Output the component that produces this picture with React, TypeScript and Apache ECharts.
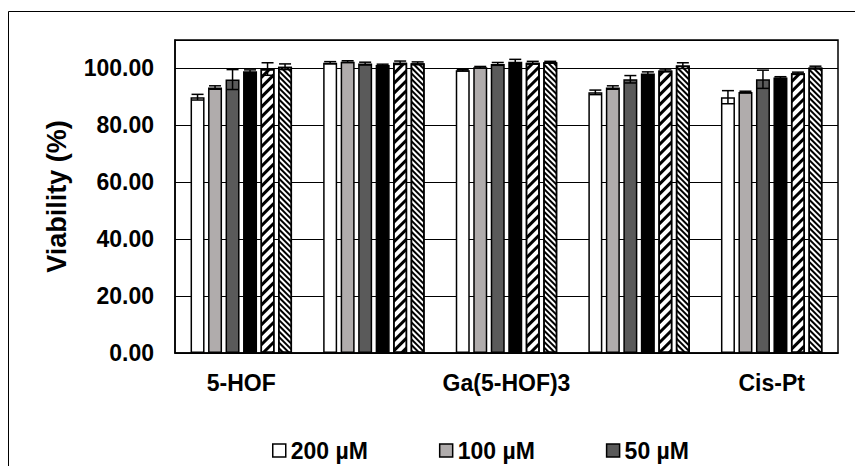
import React, { useEffect, useRef } from 'react';
import * as echarts from 'echarts';

const categories = ['5-HOF', '', 'Ga(5-HOF)3', '', 'Cis-Pt'];
const seriesNames = ['200 µM', '100 µM', '50 µM', '25 µM', '12.5 µM', '6.25 µM'];
const legendNames = ['200 µM', '100 µM', '50 µM'];
const yAxisName = 'Viability (%)';

const values200 = [89.9, 102.0, 99.4, 91.6, 89.9];
const values100 = [93.3, 102.4, 100.4, 93.3, 91.7];
const values50 = [96.1, 101.7, 101.6, 96.2, 96.2];
const values25 = [99.0, 101.2, 102.4, 98.2, 96.8];
const values12 = [99.8, 102.0, 102.0, 99.3, 98.3];
const values6 = [100.6, 101.8, 102.2, 101.0, 100.3];

const err200 = [1.0, 0.4, 0.3, 0.8, 2.3];
const err100 = [0.6, 0.3, 0.3, 0.6, 0.3];
const err50 = [3.5, 0.5, 0.5, 1.3, 3.2];
const err25 = [0.5, 0.3, 0.8, 0.6, 0.3];
const err12 = [2.2, 0.6, 0.5, 0.5, 0.4];
const err6 = [1.0, 0.5, 0.3, 1.0, 0.5];

const allValues = [values200, values100, values50, values25, values12, values6];
const allErrors = [err200, err100, err50, err25, err12, err6];

const fills = ['#ffffff', '#b0acac', '#5a5a5a', '#000000', '#ffffff', '#ffffff'];

const BAR_W = 14;
const BAR_GAP = 3.5;
const FONT = 'Arial, "Liberation Sans", sans-serif';

function decalFor(i: number): any {
  if (i === 4) {
    return {
      symbol: 'rect',
      symbolSize: 1,
      color: '#000',
      dashArrayX: [1, 0],
      dashArrayY: [3, 3.5],
      rotation: -Math.PI / 4,
    };
  }
  if (i === 5) {
    return {
      symbol: 'rect',
      symbolSize: 1,
      color: '#000',
      dashArrayX: [1, 0],
      dashArrayY: [1.8, 1.8],
      rotation: Math.PI / 4,
    };
  }
  return undefined;
}

export default function App() {
  const ref = useRef<HTMLDivElement>(null);
  useEffect(() => {
    if (!ref.current) return;
    const chart = echarts.init(ref.current, undefined, { renderer: 'svg' });
    const barSeries = seriesNames.map((name, i) => {
      const d = decalFor(i);
      return {
        name,
        type: 'bar',
        data: allValues[i],
        barWidth: BAR_W,
        barGap: (BAR_GAP / BAR_W) * 100 + '%',
        itemStyle: {
          color: fills[i],
          borderColor: '#000',
          borderWidth: 1.5,
          ...(d ? { decal: d } : {}),
        },
        z: 2,
      };
    });
    const errSeries = seriesNames.map((name, i) => ({
      name: name + ' err',
      type: 'custom',
      z: 5,
      data: allValues[i].map((v, k) => [k, v, allErrors[i][k]]),
      renderItem: (params: any, api: any) => {
        const k = api.value(0);
        const v = api.value(1);
        const e = api.value(2);
        const offset = (i - 2.5) * (BAR_W + BAR_GAP);
        const hi = api.coord([k, v + e]);
        const lo = api.coord([k, v - e]);
        const x = hi[0] + offset;
        const cap = 6;
        const st = { stroke: '#000', lineWidth: 1.5 };
        return {
          type: 'group',
          children: [
            { type: 'line', shape: { x1: x, y1: hi[1], x2: x, y2: lo[1] }, style: st },
            { type: 'line', shape: { x1: x - cap, y1: hi[1], x2: x + cap, y2: hi[1] }, style: st },
            { type: 'line', shape: { x1: x - cap, y1: lo[1], x2: x + cap, y2: lo[1] }, style: st },
          ],
        };
      },
    }));
    chart.setOption({
      animation: false,
      backgroundColor: '#ffffff',
      textStyle: { fontFamily: FONT },
      graphic: [
        {
          type: 'rect',
          shape: { x: 8.5, y: 11.5, width: 900, height: 500 },
          style: { fill: 'none', stroke: '#000', lineWidth: 1 },
          z: 0,
        },
      ],
      grid: {
        left: 175,
        top: 40,
        right: 17,
        bottom: 113,
        show: true,
        borderColor: '#000',
        borderWidth: 1.5,
        backgroundColor: '#fff',
      },
      legend: {
        data: legendNames,
        left: 267,
        top: 434,
        itemGap: 71,
        itemWidth: 13,
        itemHeight: 13,
        icon: 'rect',
        itemStyle: { borderColor: '#000', borderWidth: 1.5 },
        textStyle: { fontSize: 23, fontWeight: 'bold', color: '#000', fontFamily: FONT },
      },
      xAxis: {
        type: 'category',
        data: categories,
        axisLine: { show: true, lineStyle: { color: '#000', width: 1.5 } },
        axisTick: { show: false },
        axisLabel: {
          interval: 1,
          margin: 18,
          fontSize: 23,
          fontWeight: 'bold',
          color: '#000',
          fontFamily: FONT,
        },
      },
      yAxis: {
        type: 'value',
        min: 0,
        max: 110,
        interval: 20,
        name: yAxisName,
        nameLocation: 'middle',
        nameGap: 105,
        nameTextStyle: { fontSize: 27, fontWeight: 'bold', color: '#000', fontFamily: FONT },
        axisLine: { show: true, lineStyle: { color: '#000', width: 1.5 } },
        axisTick: { show: false },
        splitLine: { show: true, lineStyle: { color: '#000', width: 1.2 } },
        axisLabel: {
          showMaxLabel: false,
          margin: 21,
          fontSize: 23,
          fontWeight: 'bold',
          color: '#000',
          fontFamily: FONT,
          formatter: (v: number) => v.toFixed(2),
        },
      },
      series: [...barSeries, ...errSeries],
    });
    return () => chart.dispose();
  }, []);
  return (
    <div
      ref={ref}
      style={{ position: 'absolute', left: 0, top: 0, width: 855, height: 466 }}
    />
  );
}
